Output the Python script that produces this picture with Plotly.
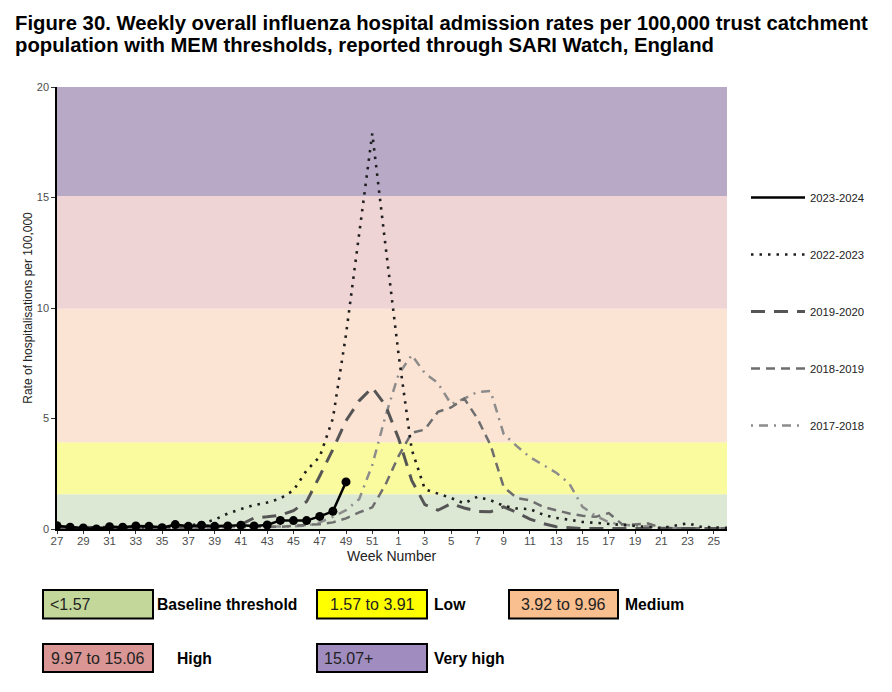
import plotly.graph_objects as go

# --- DATA ---
WEEKS = [str(w) for w in list(range(27, 53)) + list(range(1, 27))]
TICK_WEEKS = WEEKS[::2]

S_2023_24 = [0.15, 0.08, 0.05, 0.0, 0.1, 0.08, 0.14, 0.12, 0.06, 0.2, 0.12, 0.17,
             0.12, 0.14, 0.17, 0.14, 0.18, 0.39, 0.38, 0.38, 0.57, 0.8, 2.13]

S_2022_23 = [0.08, 0.06, 0.05, 0.05, 0.06, 0.05, 0.06, 0.07, 0.08, 0.1, 0.15, 0.25,
             0.42, 0.7, 0.9, 1.08, 1.2, 1.38, 1.75, 2.65, 3.27, 5.0, 8.8, 13.3, 17.9, 12.85,
             7.9, 3.6, 1.8, 1.6, 1.4, 1.16, 1.46, 1.3, 1.05, 0.93, 0.9, 0.65, 0.5,
             0.42, 0.32, 0.28, 0.23, 0.17, 0.15, 0.08, 0.04, 0.15, 0.26, 0.1, 0.07, 0.05]

S_2019_20 = [0.1, 0.08, 0.08, 0.07, 0.08, 0.07, 0.08, 0.09, 0.08, 0.1, 0.1, 0.11,
             0.12, 0.14, 0.2, 0.5, 0.55, 0.62, 0.83, 1.24, 2.4, 3.6, 4.9, 5.8, 6.4, 5.6,
             4.1, 2.2, 1.1, 0.85, 1.15, 0.95, 0.8, 0.78, 1.0, 0.75, 0.45, 0.25, 0.1,
             0.05, 0.02, 0.02, 0.02, 0.02, 0.02, 0.02, 0.02, 0.02, 0.02, 0.02, 0.02, 0.02]

S_2018_19 = [0.05, 0.05, 0.04, 0.04, 0.05, 0.04, 0.05, 0.05, 0.05, 0.06, 0.06, 0.07,
             0.07, 0.08, 0.08, 0.09, 0.09, 0.1, 0.15, 0.18, 0.22, 0.3, 0.48, 0.75, 0.98, 2.0,
             3.3, 4.35, 4.5, 5.3, 5.5, 5.9, 5.0, 3.8, 1.9, 1.4, 1.3, 1.0, 0.85,
             0.7, 0.6, 0.55, 0.72, 0.22, 0.2, 0.25, 0.05, 0.03, 0.03, 0.03, 0.03, 0.03]

S_2017_18 = [0.06, 0.05, 0.05, 0.05, 0.05, 0.05, 0.05, 0.06, 0.06, 0.06, 0.07, 0.07,
             0.08, 0.08, 0.09, 0.09, 0.1, 0.1, 0.12, 0.15, 0.3, 0.55, 0.85, 1.35, 2.9, 5.1,
             7.0, 7.87, 7.05, 6.6, 5.65, 5.9, 6.2, 6.25, 4.3, 3.75, 3.25, 2.9, 2.55,
             2.05, 1.0, 0.6, 0.3, 0.2, 0.15, 0.1, 0.05, 0.03, 0.03, 0.03, 0.03, 0.03]

# MEM thresholds (band edges) and band colours
BAND_EDGES = [0, 1.57, 3.92, 9.97, 15.07, 20]
BAND_COLORS = ["#dce8d4", "#fafa9e", "#fce4d4", "#efd4d6", "#b8aac7"]

KEY_TEXT = ["<1.57", "1.57 to 3.91", "3.92 to 9.96", "9.97 to 15.06", "15.07+"]
KEY_LABELS = ["Baseline threshold", "Low", "Medium", "High", "Very high"]
KEY_COLORS = ["#c4d79b", "#ffff00", "#fabf8f", "#da9694", "#a08cbf"]

# --- LAYOUT GEOMETRY (page pixels; the page body adds an 8px offset) ---
OFF = 8
W, H = 892 - OFF, 692 - OFF
ML, MT = 57 - OFF, 87 - OFF
PW, PH = 670, 442
MR, MB = W - ML - PW, H - MT - PH


def px_x(px):
    return (px - OFF - ML) / PW


def px_y(py):
    return (MT + PH - (py - OFF)) / PH


FONT = "Liberation Sans, Arial, sans-serif"

fig = go.Figure()

series = [
    ("2017-2018", S_2017_18, 5, dict(color="#8c8c8c", width=2.5, dash="2px,6px,9px,6px")),
    ("2018-2019", S_2018_19, 4, dict(color="#6e6e6e", width=2.5, dash="9px,6px")),
    ("2019-2020", S_2019_20, 3, dict(color="#555555", width=3, dash="14px,9px")),
    ("2022-2023", S_2022_23, 2, dict(color="#1e1e1e", width=2.6, dash="2.5px,6px")),
]
for name, vals, rank, line in series:
    fig.add_trace(go.Scatter(x=WEEKS[:len(vals)], y=vals, mode="lines", name=name,
                             line=line, legendgroup=name, legendrank=rank))

# current season: line carries the legend entry, markers drawn on top without one
fig.add_trace(go.Scatter(x=WEEKS[:len(S_2023_24)], y=S_2023_24, mode="lines",
                         name="2023-2024", legendgroup="2023-2024", legendrank=1,
                         line=dict(color="black", width=2.5)))
fig.add_trace(go.Scatter(x=WEEKS[:len(S_2023_24)], y=S_2023_24, mode="markers",
                         name="2023-2024", legendgroup="2023-2024", showlegend=False,
                         marker=dict(color="black", size=9)))

# threshold bands
for i, col in enumerate(BAND_COLORS):
    fig.add_shape(type="rect", xref="x domain", yref="y", x0=0, x1=1,
                  y0=BAND_EDGES[i], y1=BAND_EDGES[i + 1],
                  fillcolor=col, line_width=0, layer="below")

# title
fig.add_annotation(text="Figure 30. Weekly overall influenza hospital admission rates per 100,000 trust catchment",
                   xref="paper", yref="paper", x=px_x(13), y=px_y(23), xanchor="left", yanchor="middle",
                   showarrow=False, font=dict(family=FONT, size=20.3, color="black", weight="bold"))
fig.add_annotation(text="population with MEM thresholds, reported through SARI Watch, England",
                   xref="paper", yref="paper", x=px_x(13), y=px_y(45.5), xanchor="left", yanchor="middle",
                   showarrow=False, font=dict(family=FONT, size=20.3, color="black", weight="bold"))

# x axis title placed close under the tick labels
fig.add_annotation(text="Week Number", xref="paper", yref="paper", x=0.5, y=px_y(556),
                   xanchor="center", yanchor="middle", showarrow=False,
                   font=dict(family=FONT, size=14, color="#222222"))

# colour key boxes under the chart
key_pos = [  # (x0, x1, y0, y1, label_x, text_align)
    (43, 153, 590, 618.5, 155, "left"),
    (317, 427, 590, 618.5, 432, "center"),
    (509, 618, 590, 618.5, 623, "center"),
    (43, 153, 644, 672, 175, "center"),
    (317, 427, 644, 672, 432, "left"),
]
for (x0, x1, y0, y1, lx, align), txt, lab, col in zip(key_pos, KEY_TEXT, KEY_LABELS, KEY_COLORS):
    fig.add_shape(type="rect", xref="paper", yref="paper",
                  x0=px_x(x0), x1=px_x(x1), y0=px_y(y0), y1=px_y(y1),
                  fillcolor=col, line=dict(color="black", width=2))
    if align == "left":
        tx, anchor = px_x(x0 + 5), "left"
    else:
        tx, anchor = px_x((x0 + x1) / 2), "center"
    fig.add_annotation(text=txt, xref="paper", yref="paper", x=tx, y=px_y((y0 + y1) / 2),
                       xanchor=anchor, yanchor="middle", showarrow=False,
                       font=dict(family=FONT, size=16, color="#222222"))
    fig.add_annotation(text=lab, xref="paper", yref="paper", x=px_x(lx), y=px_y((y0 + y1) / 2),
                       xanchor="left", yanchor="middle", showarrow=False,
                       font=dict(family=FONT, size=15.7, color="black", weight="bold"))

fig.update_layout(
    width=W, height=H, autosize=False,
    margin=dict(l=ML, r=MR, t=MT, b=MB),
    paper_bgcolor="white", plot_bgcolor="white",
    font=dict(family=FONT, size=11, color="#333333"),
    showlegend=True,
    legend=dict(x=px_x(746), y=px_y(183), xanchor="left", yanchor="top",
                traceorder="grouped", tracegroupgap=38, itemwidth=54,
                font=dict(family=FONT, size=11.3, color="#222222"), bgcolor="rgba(0,0,0,0)"),
)
fig.update_xaxes(type="category", categoryorder="array", categoryarray=WEEKS,
                 range=[0, 51], tickvals=TICK_WEEKS, ticktext=TICK_WEEKS,
                 showgrid=False, zeroline=False, showline=True, linecolor="black", linewidth=1.5,
                 ticks="outside", ticklen=3, tickcolor="#333333", ticklabelstandoff=-3,
                 tickfont=dict(family=FONT, size=11.5, color="#4d4d4d"))
fig.update_yaxes(range=[0, 20], tickvals=[0, 5, 10, 15, 20],
                 showgrid=False, zeroline=False, showline=True, linecolor="black", linewidth=1.5,
                 ticks="outside", ticklen=4, tickcolor="#333333",
                 tickfont=dict(family=FONT, size=11, color="#4d4d4d"),
                 title=dict(text="Rate of hospitalisations per 100,000", standoff=2,
                            font=dict(family=FONT, size=12, color="#222222")))

fig.write_html("out.html")
